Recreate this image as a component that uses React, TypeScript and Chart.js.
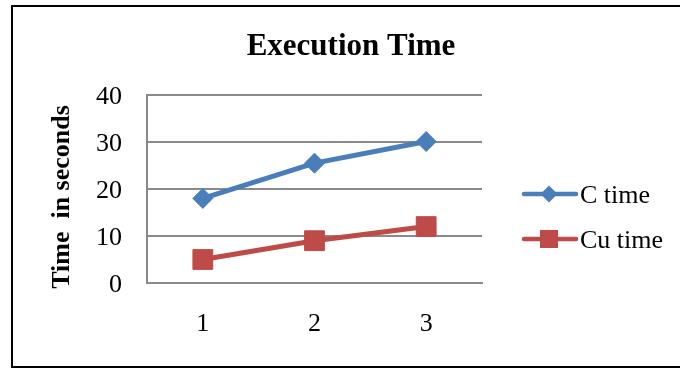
import React, { useEffect, useRef } from "react";
import { Chart, registerables } from "chart.js";

Chart.register(...registerables);

const runs = ["1", "2", "3"];
const cTime = [18, 25.5, 30.1];
const cuTime = [5, 9, 12];
const seriesNames = ["C time", "Cu time"];
const yTicks = [0, 10, 20, 30, 40];

const SERIF = '"Liberation Serif", "Times New Roman", serif';
const BLUE = "#4A7EBB";
const RED = "#BE4B48";
const GRID = "#8A8A8A";

// Frame, heading, rotated axis caption and a line+marker legend on the right.
const decorations = {
  id: "decorations",
  beforeDraw(chart: Chart) {
    const ctx = chart.ctx;
    ctx.save();
    ctx.fillStyle = "#ffffff";
    ctx.fillRect(0, 0, chart.width, chart.height);
    ctx.strokeStyle = "#000000";
    ctx.lineWidth = 2;
    ctx.strokeRect(12, 6, 720, 361);
    ctx.restore();
  },
  afterDraw(chart: Chart) {
    const ctx = chart.ctx;
    ctx.save();
    ctx.fillStyle = "#000000";
    ctx.font = `bold 31px ${SERIF}`;
    ctx.textAlign = "center";
    ctx.textBaseline = "alphabetic";
    ctx.fillText("Execution Time", 351, 55);

    ctx.save();
    ctx.translate(69, 197);
    ctx.rotate(-Math.PI / 2);
    ctx.font = `bold 26px ${SERIF}`;
    ctx.fillText("Time  in seconds", 0, 0);
    ctx.restore();

    const rows = [194, 239];
    chart.data.datasets.forEach((ds: any, i: number) => {
      const y = rows[i];
      const color = ds.borderColor as string;
      ctx.strokeStyle = color;
      ctx.lineWidth = 4.5;
      ctx.lineCap = "round";
      ctx.beginPath();
      ctx.moveTo(524, y);
      ctx.lineTo(576, y);
      ctx.stroke();
      ctx.fillStyle = color;
      const cx = 549;
      if (ds.pointStyle === "rectRot") {
        const r = 8.5;
        ctx.beginPath();
        ctx.moveTo(cx - r, y);
        ctx.lineTo(cx, y - r);
        ctx.lineTo(cx + r, y);
        ctx.lineTo(cx, y + r);
        ctx.closePath();
        ctx.fill();
      } else {
        const s = 18;
        ctx.fillRect(cx - s / 2, y - s / 2, s, s);
      }
      ctx.fillStyle = "#000000";
      ctx.font = `26px ${SERIF}`;
      ctx.textAlign = "left";
      ctx.textBaseline = "alphabetic";
      ctx.fillText(ds.label, 580, y + 9);
    });
    ctx.restore();
  },
};

export default function App() {
  const ref = useRef<HTMLCanvasElement | null>(null);

  useEffect(() => {
    if (!ref.current) return;
    const chart = new Chart(ref.current, {
      type: "line",
      data: {
        labels: runs,
        datasets: [
          {
            label: seriesNames[0],
            data: cTime,
            borderColor: BLUE,
            backgroundColor: BLUE,
            borderWidth: 5,
            pointStyle: "rectRot",
            pointRadius: 10,
            pointBorderWidth: 1,
            tension: 0,
          },
          {
            label: seriesNames[1],
            data: cuTime,
            borderColor: RED,
            backgroundColor: RED,
            borderWidth: 5,
            pointStyle: "rect",
            pointRadius: 14,
            pointBorderWidth: 1,
            tension: 0,
          },
        ],
      },
      options: {
        responsive: false,
        animation: false,
        devicePixelRatio: 1,
        layout: { padding: { left: 0, right: 198, top: 95, bottom: 0 } },
        plugins: {
          legend: { display: false },
          title: { display: false },
          tooltip: { enabled: false },
        },
        scales: {
          x: {
            offset: true,
            grid: { display: false, drawTicks: false },
            border: { display: true, color: GRID, width: 2 },
            ticks: {
              color: "#000000",
              font: { family: SERIF, size: 26 },
              padding: 26,
            },
            afterFit: (scale: any) => {
              scale.height = 85;
            },
          },
          y: {
            min: 0,
            max: 40,
            afterBuildTicks: (scale: any) => {
              scale.ticks = yTicks.map((v) => ({ value: v }));
            },
            grid: { color: GRID, lineWidth: 2, drawTicks: false },
            border: { display: true, color: GRID, width: 2 },
            ticks: {
              color: "#000000",
              font: { family: SERIF, size: 26 },
              padding: 25,
              labelOffset: 2,
            },
            afterFit: (scale: any) => {
              scale.width = 147;
            },
          },
        },
      },
      plugins: [decorations],
    });
    return () => chart.destroy();
  }, []);

  return (
    <div style={{ position: "fixed", left: 0, top: 0, width: 680, height: 368, background: "#fff" }}>
      <canvas ref={ref} width={680} height={368} style={{ display: "block" }} />
    </div>
  );
}
